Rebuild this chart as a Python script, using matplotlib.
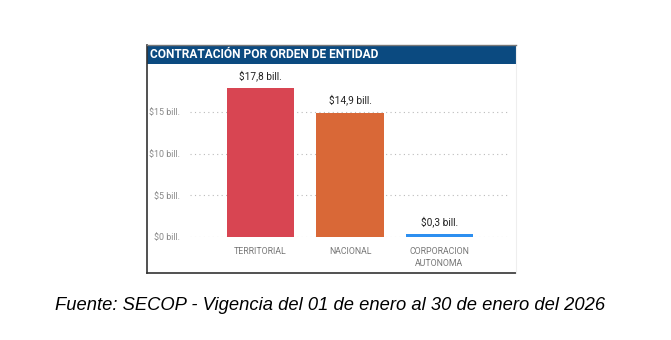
import matplotlib
matplotlib.use("Agg")
import matplotlib.pyplot as plt
from matplotlib.patches import Rectangle
from matplotlib.lines import Line2D

# Datos del gráfico
categorias = ["TERRITORIAL", "NACIONAL", "CORPORACION\nAUTONOMA"]
valores = [17.8, 14.9, 0.3]
etiquetas = ["$17,8 bill.", "$14,9 bill.", "$0,3 bill."]
colores = ["#D84552", "#D96837", "#2D8FF0"]
yticks = [0, 5, 10, 15]
ytick_labels = ["$0 bill.", "$5 bill.", "$10 bill.", "$15 bill."]

fig = plt.figure(figsize=(6.71, 3.40), dpi=100)
fig.patch.set_facecolor("white")

# Marco del panel
px0, px1, py0, py1 = 147 / 671, 516 / 671, (340 - 273) / 340, (340 - 45) / 340
fig.add_artist(Line2D([px0, px0], [py0, py1], color="#333333", lw=1.2, transform=fig.transFigure))
fig.add_artist(Line2D([px0, px1], [py0, py0], color="#333333", lw=1.2, transform=fig.transFigure))
fig.add_artist(Line2D([px1, px1], [py0, py1], color="#EEEEEE", lw=0.8, transform=fig.transFigure))

# Barra del título
tb_bottom = (340 - 64) / 340
fig.add_artist(Rectangle((px0, tb_bottom), px1 - px0, py1 - tb_bottom, transform=fig.transFigure,
                         facecolor="#0B4A80", edgecolor="none"))
fig.add_artist(Line2D([px0, px1], [py1, py1], color="#777777", lw=1, transform=fig.transFigure))
fig.text(150 / 671, (tb_bottom + py1) / 2, "CONTRATACIÓN POR ORDEN DE ENTIDAD", color="white",
         fontsize=8.6, fontweight="bold", family="Roboto", va="center", ha="left")

# Área del gráfico
ax = fig.add_axes([190 / 671, (340 - 237) / 340, 320 / 671, 167 / 340])
x = range(len(categorias))
bars = ax.bar(x, valores, width=0.75, color=colores)

for i, (v, lab) in enumerate(zip(valores, etiquetas)):
    ax.annotate(lab, (i, v), xytext=(0, 5), textcoords="offset points", ha="center", va="bottom",
                fontsize=7.3, color="#222222", family="Roboto")

ax.set_xlim(-0.79, 2.79)
ax.set_ylim(0, 20)
ax.set_yticks(yticks)
ax.set_yticklabels(ytick_labels, fontsize=6.4, color="#888888", family="Roboto")
ax.set_xticks(list(x))
ax.set_xticklabels(categorias, fontsize=6.3, color="#777777", family="Roboto", linespacing=1.4)
ax.tick_params(length=0, pad=7)
ax.tick_params(axis="y", pad=7)
ax.grid(axis="y", linestyle=(0, (1, 3)), color="#BBBBBB", lw=0.8)
ax.set_axisbelow(True)
for s in ax.spines.values():
    s.set_visible(False)

# Fuente
fig.text(330 / 671, (340 - 305) / 340,
         "Fuente: SECOP - Vigencia del 01 de enero al 30 de enero del 2026",
         ha="center", va="center", fontsize=13.2, style="italic", family="Liberation Sans", color="black")

plt.savefig("out.png", dpi=100)
